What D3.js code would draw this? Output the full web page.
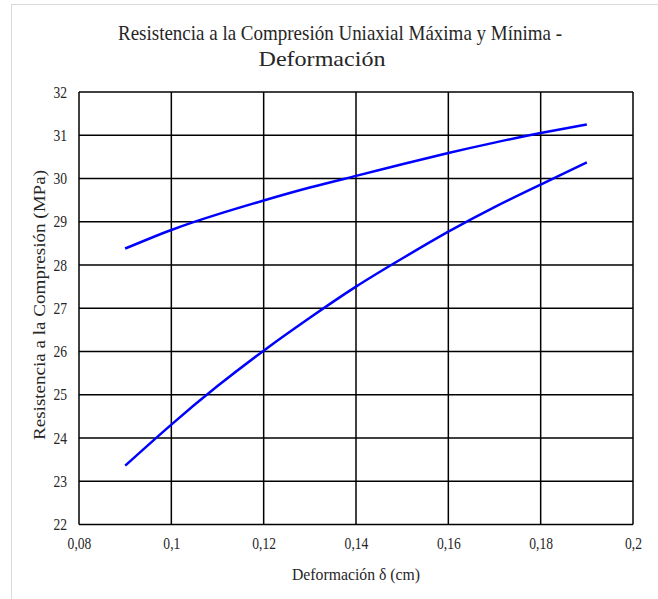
<!DOCTYPE html>
<html lang="es">
<head>
<meta charset="utf-8">
<title>Resistencia a la Compresión - Deformación</title>
<script src="https://cdn.jsdelivr.net/npm/d3@7"></script>
<style>
  body { margin: 0; background: #fff; }
  svg text { font-family: "Liberation Serif", "Times New Roman", serif; fill: #262626; }
</style>
</head>
<body>
<svg id="chart" width="658" height="599"></svg>
<script>
// values
var deformacion = [0.09, 0.10, 0.11, 0.12, 0.13, 0.14, 0.15, 0.16, 0.17, 0.18, 0.19];
var resMaxima   = [28.38, 28.81, 29.17, 29.49, 29.79, 30.06, 30.33, 30.59, 30.83, 31.05, 31.25];
var resMinima   = [23.36, 24.31, 25.20, 26.02, 26.78, 27.50, 28.15, 28.77, 29.34, 29.86, 30.37];
var xTicks = [0.08, 0.10, 0.12, 0.14, 0.16, 0.18, 0.20];
var yTicks = [22, 23, 24, 25, 26, 27, 28, 29, 30, 31, 32];

var svg = d3.select('#chart');
var plotL = 79, plotR = 633, plotT = 92, plotB = 524.5;

// outer frame of the chart area
svg.append('rect')
    .attr('x', 11.5).attr('y', 4.5)
    .attr('width', 700).attr('height', 700)
    .attr('fill', 'none')
    .attr('stroke', '#d9d9d9');

var x = d3.scaleLinear().domain([0.08, 0.2]).range([plotL, plotR]);
var y = d3.scaleLinear().domain([22, 32]).range([plotB, plotT]);

var fmt = function(d) { return d3.format('~g')(+d.toFixed(2)).replace('.', ','); };

// grid
var grid = svg.append('g');
grid.selectAll('line.v').data(xTicks).enter().append('line')
    .attr('x1', d => x(d)).attr('x2', d => x(d))
    .attr('y1', plotT).attr('y2', plotB)
    .attr('stroke', '#000').attr('stroke-width', 1.5);
grid.selectAll('line.h').data(yTicks).enter().append('line')
    .attr('x1', plotL).attr('x2', plotR)
    .attr('y1', d => y(d)).attr('y2', d => y(d))
    .attr('stroke', '#000').attr('stroke-width', 1.5);

// axes (labels only) - narrow, tall glyphs like the original
var xAxis = d3.axisBottom(x).tickValues(xTicks).tickSize(0).tickPadding(13).tickFormat(fmt);
var yAxis = d3.axisLeft(y).tickValues(yTicks).tickSize(0).tickPadding(14).tickFormat(d => d);

svg.append('g').attr('transform', 'translate(0,' + plotB + ')').call(xAxis)
    .call(g => g.select('.domain').remove())
    .selectAll('text').style('font-size', '16px').attr('fill', '#262626')
    .attr('transform', 'scale(0.85,1)');
svg.append('g').attr('transform', 'translate(' + plotL + ',0)').call(yAxis)
    .call(g => g.select('.domain').remove())
    .selectAll('text').style('font-size', '16px').attr('fill', '#262626')
    .attr('transform', 'scale(0.85,1)');

// curves
var line = d3.line()
    .x((d, i) => x(deformacion[i]))
    .y(d => y(d))
    .curve(d3.curveNatural);

[resMaxima, resMinima].forEach(function(serie) {
    svg.append('path')
        .datum(serie)
        .attr('d', line)
        .attr('fill', 'none')
        .attr('stroke', '#0000ff')
        .attr('stroke-width', 2.5);
});

// titles
svg.append('text').attr('x', 340).attr('y', 40)
    .attr('text-anchor', 'middle').style('font-size', '21px')
    .attr('textLength', 444).attr('lengthAdjust', 'spacingAndGlyphs')
    .text('Resistencia a la Compresión Uniaxial  Máxima y Mínima -');
svg.append('text').attr('x', 322).attr('y', 66)
    .attr('text-anchor', 'middle').style('font-size', '21px')
    .attr('textLength', 127).attr('lengthAdjust', 'spacingAndGlyphs')
    .text('Deformación');

svg.append('text').attr('x', 356).attr('y', 580)
    .attr('text-anchor', 'middle').style('font-size', '17px')
    .attr('textLength', 128).attr('lengthAdjust', 'spacingAndGlyphs')
    .text('Deformación δ (cm)');
svg.append('text')
    .attr('transform', 'translate(45,305) rotate(-90)')
    .attr('text-anchor', 'middle').style('font-size', '17px')
    .attr('textLength', 270).attr('lengthAdjust', 'spacingAndGlyphs')
    .text('Resistencia a la Compresión (MPa)');
</script>
</body>
</html>
